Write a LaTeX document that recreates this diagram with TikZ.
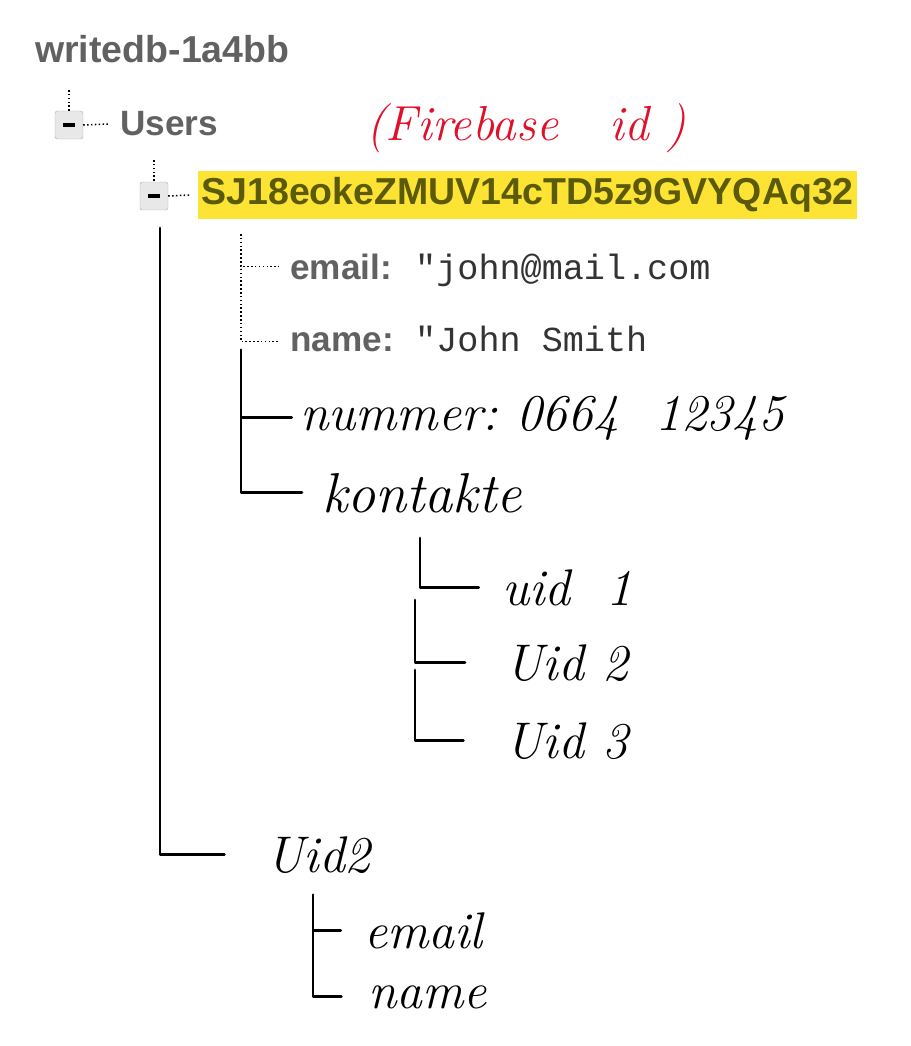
\documentclass[tikz,border=0pt]{standalone}
\usepackage{fontspec}
\newfontfamily\uifont{Liberation Sans}
\newfontfamily\codefont{Liberation Mono}
\usetikzlibrary{positioning}
\definecolor{uigray}{HTML}{616161}
\definecolor{keyolive}{HTML}{5A5A08}
\definecolor{hilite}{HTML}{FCE334}
\definecolor{boxgray}{HTML}{E8E8E8}
\definecolor{inkred}{HTML}{E0102A}

\begin{document}
\begin{tikzpicture}[x=0.03cm, y=-0.03cm,
  ui/.style={anchor=base west, inner sep=0pt, font=\uifont\bfseries\fontsize{30}{32}\selectfont, text=uigray},
  val/.style={anchor=base west, inner sep=0pt, font=\codefont\fontsize{30}{32}\selectfont, text=black!80},
  hand/.style={anchor=base west, inner sep=0pt, font=\itshape\fontsize{44}{48}\selectfont},
  minus/.style={draw=gray!60, fill=boxgray, rounded corners=2pt, minimum size=0.84cm, inner sep=0pt},
  dots/.style={dotted, line width=1.3pt},
  ink/.style={line width=2.4pt, line cap=round, line join=round}]
\useasboundingbox (0,0) rectangle (910,1046);
% database root
\node[ui, font=\uifont\bfseries\fontsize{32}{34}\selectfont] (root) at (35,63) {writedb-1a4bb};
% Users
\coordinate (top1) at (69,90);
\node[minus] (box1) at (69,125) {};
\draw[line width=3pt] ([xshift=-0.17cm]box1.center) -- ([xshift=0.17cm]box1.center);
\node[ui, anchor=west] (users) at (120,124) {Users};
\draw[dots] (top1) -- (box1.north);
\draw[dots] (box1.east) -- ([xshift=-0.35cm]users.west);
\node[text=inkred, font=\itshape\fontsize{42}{46}\selectfont, anchor=west, inner sep=0pt] (fbid) at (366,128) {(Firebase\ \ \ id\ )};
% user key
\coordinate (top2) at (154,160);
\node[minus] (box2) at (154,196) {};
\draw[line width=3pt] ([xshift=-0.17cm]box2.center) -- ([xshift=0.17cm]box2.center);
\node[fill=hilite, anchor=west, inner xsep=0.1cm, inner ysep=0.2cm, font=\uifont\bfseries\fontsize{32}{34}\selectfont, text=keyolive] (uid) at (198,195) {SJ18eokeZMUV14cTD5z9GVYQAq32};
\draw[dots] (top2) -- (box2.north);
\draw[dots] (box2.east) -- ([xshift=-0.25cm]uid.west);
% fields
\coordinate (top3) at (241,234);
\node[ui] (email) at (290,279) {email:};
\node[val] (emailv) at (415,279) {"john@mail.com};
\node[ui] (name) at (290,351) {name:};
\node[val] (namev) at (415,351) {"John Smith};
\draw[dots] (top3) |- ([xshift=-0.35cm]email.west);
\draw[dots] (top3) |- ([xshift=-0.35cm]name.west);
% handwritten fields
\coordinate (top4) at (241,350);
\node[hand] (num) at (300,430) {nummer:\ 0664\ \ 12345};
\node[hand, font=\itshape\fontsize{48}{52}\selectfont] (kont) at (322,512) {kontakte};
\draw[ink] (top4) |- ([xshift=-0.25cm]num.west);
\draw[ink] (top4) |- ([xshift=-0.6cm]kont.west);
% contacts
\coordinate (top5) at (420,538);
\coordinate (top6) at (415,600);
\coordinate (top7) at (415,670);
\node[hand] (c1) at (502,605) {uid\ \ 1};
\node[hand] (c2) at (505,680) {Uid\ 2};
\node[hand] (c3) at (505,758) {Uid\ 3};
\draw[ink] (top5) |- ([xshift=-0.7cm]c1.west);
\draw[ink] (top6) |- ([xshift=-1.2cm]c2.west);
\draw[ink] (top7) |- ([xshift=-1.25cm]c3.west);
% second user
\coordinate (top8) at (160,228);
\node[hand] (user2) at (266,872) {Uid2};
\draw[ink] (top8) |- ([xshift=-1.25cm]user2.west);
\coordinate (top9) at (313,895);
\node[hand] (email2) at (364,948) {email};
\node[hand] (name2) at (368,1008) {name};
\draw[ink] (top9) |- ([xshift=-0.7cm]email2.west);
\draw[ink] (top9) |- ([xshift=-0.8cm]name2.west);
\end{tikzpicture}
\end{document}
